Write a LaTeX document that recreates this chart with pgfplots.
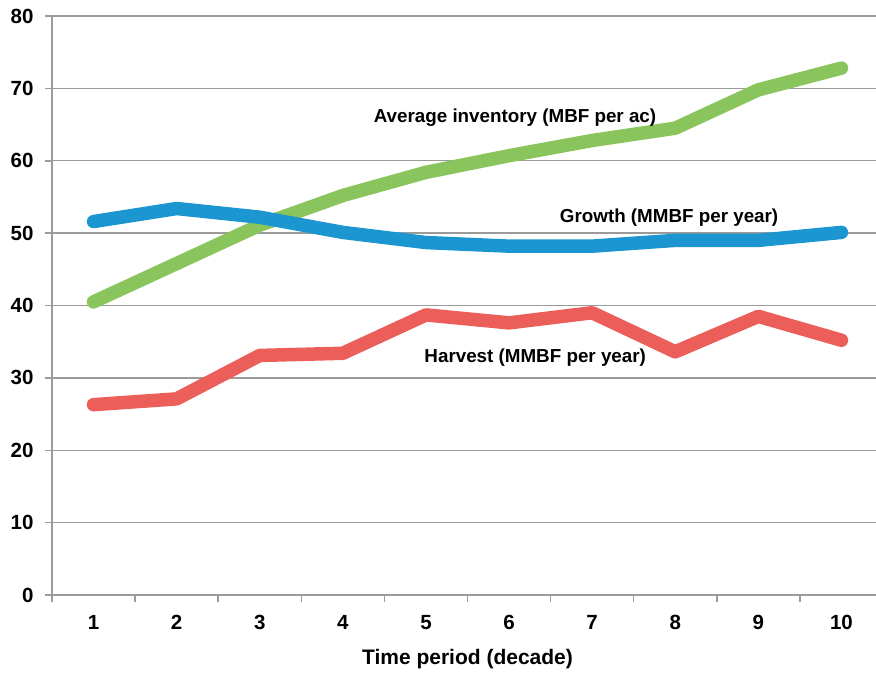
\documentclass[border=0pt]{standalone}
\usepackage{pgfplots}
\pgfplotsset{compat=1.18}
\usepackage{fontspec}
\setmainfont{Liberation Sans}
\definecolor{cgreen}{RGB}{137,196,92}
\definecolor{cblue}{RGB}{28,150,208}
\definecolor{cred}{RGB}{236,94,90}
\definecolor{cgrid}{RGB}{155,155,155}
\begin{document}
\begin{tikzpicture}
\useasboundingbox (-52pt,-78pt) rectangle (824pt,595pt);
\clip (-52pt,-78pt) rectangle (824pt,595pt);
\begin{axis}[
  at={(0pt,0pt)}, anchor=south west,
  scale only axis, width=831pt, height=579pt,
  xmin=0.5, xmax=10.5, ymin=0, ymax=80,
  axis lines*=left,
  axis line style={cgrid, line width=1.5pt, -},
  xtick={1,...,10},
  minor xtick={0.5,1.5,...,10.5},
  ytick={0,10,...,80},
  major tick length=0pt,
  minor tick length=7pt,
  tick style={cgrid, line width=1.5pt},
  tick align=outside,
  ymajorgrids,
  major grid style={cgrid, line width=1.3pt},
  extra y ticks={0,10,...,80},
  extra y tick labels={},
  extra y tick style={major tick length=7pt, grid=none},
  /pgf/number format/assume math mode=true,
  ticklabel style={font=\fontsize{20.5}{24}\selectfont\bfseries},
  yticklabel style={xshift=-15pt},
  xticklabel style={yshift=-17pt},
  xlabel={Time period (decade)},
  xlabel style={font=\fontsize{21}{25}\selectfont\bfseries, yshift=-12pt},
  clip=false,
]
\addplot[cgreen, line width=13.5pt, line join=round, line cap=round] coordinates {
(1,40.5) (2,45.8) (3,51.1) (4,55.2) (5,58.4) (6,60.7) (7,62.8) (8,64.5) (9,69.8) (10,72.8)};
\addplot[cblue, line width=13.5pt, line join=round, line cap=round] coordinates {
(1,51.6) (2,53.4) (3,52.2) (4,50.1) (5,48.7) (6,48.2) (7,48.2) (8,49.0) (9,49.0) (10,50.1)};
\addplot[cred, line width=13.5pt, line join=round, line cap=round] coordinates {
(1,26.3) (2,27.1) (3,33.1) (4,33.4) (5,38.7) (6,37.6) (7,39.0) (8,33.6) (9,38.5) (10,35.2)};
\node[font=\fontsize{18.8}{22}\selectfont\bfseries, anchor=base west] at (axis cs:4.33,65.3) {Average inventory (MBF per ac)};
\node[font=\fontsize{18.8}{22}\selectfont\bfseries, anchor=base west] at (axis cs:6.57,51.4) {Growth (MMBF per year)};
\node[font=\fontsize{18.8}{22}\selectfont\bfseries, anchor=base west] at (axis cs:4.94,32.1) {Harvest (MMBF per year)};
\end{axis}
\end{tikzpicture}
\end{document}
